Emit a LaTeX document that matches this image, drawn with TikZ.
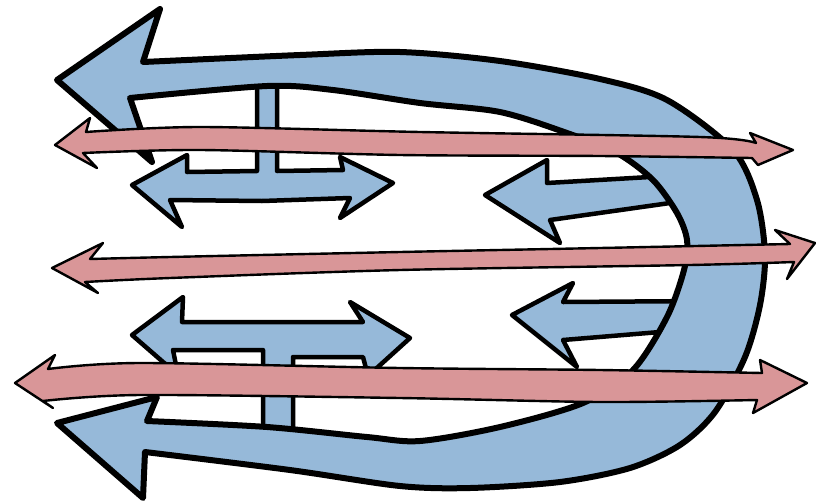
\documentclass[tikz,border=0pt]{standalone}
\usepackage{xcolor}
\usepackage{tikz}
\definecolor{flowblue}{HTML}{96B9D9}
\definecolor{flowpink}{HTML}{D99698}

\begin{document}
\begin{tikzpicture}[x=1pt, y=-1pt, line join=round,
  bigarrow/.style={fill=flowblue, draw=black, line width=6pt},
  smallarrow/.style={fill=flowblue, draw=black, line width=4.5pt},
  pinkarrow/.style={fill=flowpink, draw=black, line width=2.4pt}]
  \useasboundingbox (0,0) rectangle (816,501);

  % small blue arrows (stems and shafts run into the big loop)
  \draw[smallarrow] (132,185) -- (187,155) -- (187,172) -- (257,171) -- (257,78)
    -- (277,78) -- (277,171) -- (343,170) -- (340,157) -- (393,183) -- (340,218)
    -- (350,198) -- (262,201) -- (170,200) -- (182,227) -- cycle;
  \draw[smallarrow] (132,335) -- (183,297) -- (182,322) -- (363,322) -- (350,302)
    -- (410,338) -- (368,376) -- (363,357) -- (293,357) -- (293,445) -- (263,445)
    -- (263,350) -- (173,350) -- (178,375) -- cycle;
  \draw[smallarrow] (485,195) -- (547,160) -- (547,183) -- (650,177) -- (705,176)
    -- (705,204) -- (670,203) -- (550,220) -- (560,243) -- cycle;
  \draw[smallarrow] (512,315) -- (573,283) -- (563,302) -- (705,301) -- (705,331)
    -- (660,332) -- (563,340) -- (577,367) -- cycle;

  % big loop arrow
  \draw[bigarrow] (57,80) -- (160,9) -- (143,62)
    -- plot[smooth] coordinates {(143,62) (300,55) (400,52) (500,61) (600,79)
       (667,100) (733,150) (757,200) (765,255) (760,305) (745,357) (715,412)
       (680,445) (630,468) (560,482) (470,488) (400,486) (290,470) (145,452)}
    -- (143,498) -- (57,423) -- (157,397) -- (147,421)
    -- plot[smooth] coordinates {(147,421) (267,427) (367,437) (420,441) (500,427)
       (583,403) (633,370) (667,317) (684,270) (687,240) (677,213) (653,180)
       (617,153) (567,133) (500,112) (420,103) (333,90) (267,86) (130,98)}
    -- (152,162) -- cycle;

  % pink arrows on top
  \draw[pinkarrow] (55,145) -- (90,118) -- (86,132)
    -- plot[smooth] coordinates {(86,132) (200,127) (420,132) (700,137) (756,143)}
    -- (750,133) -- (793,150) -- (758,165) -- (752,158)
    -- plot[smooth] coordinates {(752,158) (600,156) (400,155) (200,150) (83,153)}
    -- (97,168) -- cycle;
  \draw[pinkarrow] (52,268) -- (103,243) -- (90,259)
    -- plot[smooth] coordinates {(90,259) (170,257) (400,252) (600,248) (790,244)}
    -- (775,230) -- (815,243) -- (787,279) -- (794,262)
    -- plot[smooth] coordinates {(794,262) (690,265) (400,270) (170,278) (85,282)}
    -- (98,293) -- cycle;
  \draw[pinkarrow] (15,383) -- (55,355) -- (48,369)
    -- plot[smooth] coordinates {(48,369) (140,363) (400,368) (600,370) (762,373)}
    -- (760,360) -- (807,383) -- (753,413) -- (757,400)
    -- plot[smooth] coordinates {(757,400) (600,402) (400,398) (140,395) (43,401)}
    -- (53,408) -- cycle;
\end{tikzpicture}
\end{document}
